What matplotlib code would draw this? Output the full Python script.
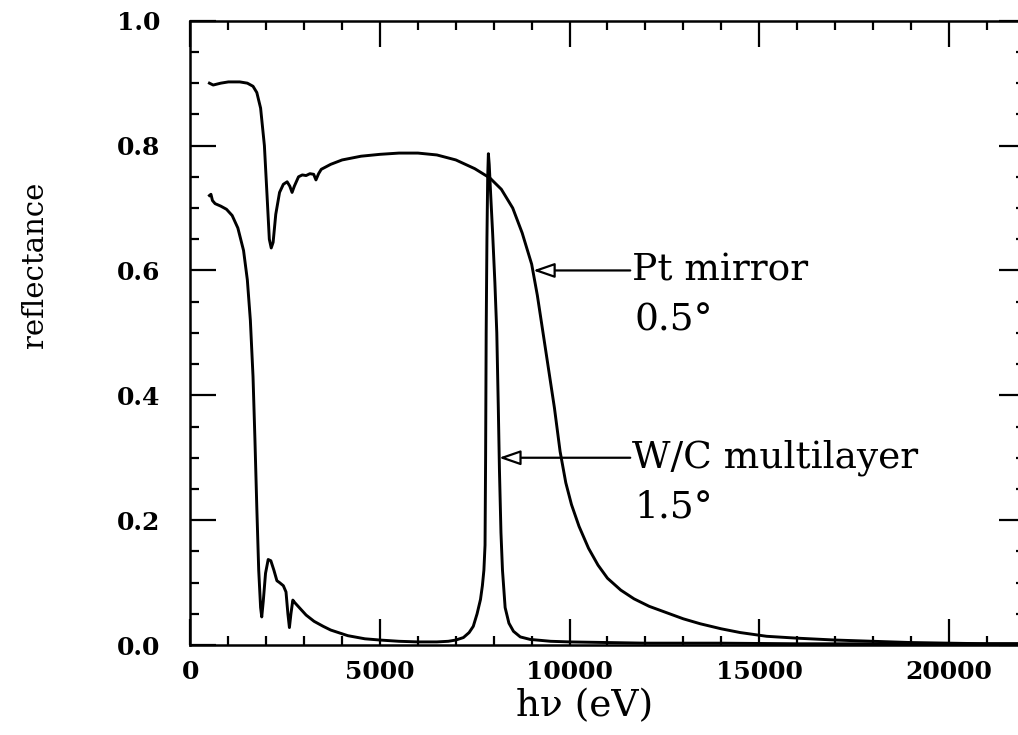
import matplotlib
matplotlib.use("Agg")
import matplotlib.pyplot as plt
from matplotlib.ticker import MultipleLocator

# Pt mirror at 0.5 deg grazing incidence (photon energy in eV, reflectance)
pt_ev = [500, 600, 800, 1000, 1300, 1500, 1650, 1750, 1850, 1950, 2020, 2080,
         2130, 2180, 2250, 2350, 2450, 2550, 2620, 2680, 2740, 2850, 2950, 3050,
         3150, 3250, 3310, 3380, 3450, 3700, 4000, 4500, 5000, 5500, 6000, 6500,
         7000, 7500, 7900, 8200, 8500, 8750, 9000, 9150, 9300, 9450, 9600, 9750,
         9900, 10050, 10250, 10500, 10750, 11000, 11350, 11700, 12100, 12550,
         13000, 13450, 14000, 14500, 15200, 16000, 17000, 18000, 19000, 20000,
         21000, 22000]
pt_r = [0.900, 0.897, 0.900, 0.902, 0.902, 0.900, 0.895, 0.885, 0.860, 0.800,
        0.720, 0.650, 0.636, 0.645, 0.690, 0.725, 0.738, 0.742, 0.735, 0.725,
        0.735, 0.750, 0.753, 0.752, 0.755, 0.754, 0.745, 0.755, 0.762, 0.770,
        0.777, 0.783, 0.786, 0.788, 0.788, 0.785, 0.777, 0.763, 0.748, 0.730,
        0.700, 0.660, 0.610, 0.560, 0.500, 0.440, 0.380, 0.310, 0.260, 0.225,
        0.190, 0.155, 0.128, 0.107, 0.088, 0.074, 0.062, 0.052, 0.042, 0.034,
        0.026, 0.020, 0.014, 0.011, 0.008, 0.006, 0.004, 0.003, 0.002, 0.002]

# W/C multilayer at 1.5 deg
wc_ev = [500, 540, 580, 650, 800, 950, 1100, 1250, 1400, 1500, 1580, 1650,
         1700, 1750, 1800, 1850, 1880, 1920, 1980, 2050, 2120, 2200, 2280, 2350,
         2450, 2520, 2570, 2610, 2650, 2700, 2750, 2900, 3050, 3260, 3500, 3700,
         4150, 4600, 5000, 5500, 6000, 6500, 6800, 7000, 7200, 7350, 7460, 7560,
         7650, 7700, 7740, 7770, 7785, 7800, 7820, 7840, 7858, 7880, 7920, 7970,
         8030, 8080, 8120, 8150, 8190, 8230, 8300, 8400, 8520, 8700, 8960, 9500,
         10000, 11000, 12000, 14000, 16000, 18000, 20000, 22000]
wc_r = [0.720, 0.722, 0.712, 0.707, 0.703, 0.698, 0.688, 0.668, 0.632, 0.585,
        0.520, 0.430, 0.330, 0.220, 0.120, 0.060, 0.045, 0.070, 0.115, 0.137,
        0.135, 0.120, 0.103, 0.100, 0.095, 0.085, 0.050, 0.028, 0.050, 0.072,
        0.068, 0.058, 0.048, 0.038, 0.030, 0.024, 0.015, 0.010, 0.008, 0.006,
        0.005, 0.005, 0.006, 0.008, 0.012, 0.020, 0.030, 0.050, 0.073, 0.095,
        0.120, 0.160, 0.300, 0.500, 0.650, 0.750, 0.787, 0.770, 0.720, 0.660,
        0.580, 0.500, 0.380, 0.280, 0.180, 0.120, 0.060, 0.035, 0.022, 0.013,
        0.009, 0.006, 0.005, 0.004, 0.003, 0.003, 0.002, 0.002, 0.002, 0.002]

labels = ["Pt mirror", "W/C multilayer"]
angles = ["0.5°", "1.5°"]
arrow_y = [0.60, 0.30]
arrow_tip = [9040, 8140]

SERIF = "DejaVu Serif"

fig = plt.figure(figsize=(10.18, 7.35), dpi=100)
ax = fig.add_axes([0.1871, 0.1224, 0.8193, 0.8494])

ax.plot(pt_ev, pt_r, color="black", lw=2.1)
ax.plot(wc_ev, wc_r, color="black", lw=2.1)

ax.set_xlim(0, 22000)
ax.set_ylim(0, 1.0)
ax.xaxis.set_major_locator(MultipleLocator(5000))
ax.xaxis.set_minor_locator(MultipleLocator(1000))
ax.yaxis.set_major_locator(MultipleLocator(0.2))
ax.yaxis.set_minor_locator(MultipleLocator(0.05))
ax.yaxis.set_major_formatter(plt.FuncFormatter(lambda v, p: f"{v:.1f}"))

ax.tick_params(which="both", direction="in", top=True, right=True, width=1.6)
ax.tick_params(which="major", length=19)
ax.tick_params(which="minor", length=6.5)
ax.tick_params(axis="x", which="major", pad=11)
ax.tick_params(axis="y", which="major", pad=22)
for lab in ax.get_xticklabels() + ax.get_yticklabels():
    lab.set_fontfamily(SERIF)
    lab.set_fontweight("bold")
    lab.set_fontsize(18)
for sp in ax.spines.values():
    sp.set_linewidth(1.8)

fig.text(585 / 1018, 1 - 706 / 735, "hν (eV)", fontfamily=SERIF, fontsize=27,
         ha="center", va="center")
fig.text(35 / 1018, 1 - 265 / 735, "reflectance", fontfamily=SERIF, fontsize=21,
         rotation=90, ha="center", va="center")

for lab, ang, y, tip in zip(labels, angles, arrow_y, arrow_tip):
    ax.annotate("", xy=(tip, y), xytext=(11600, y),
                arrowprops=dict(arrowstyle="-|>,head_length=1.3,head_width=0.45",
                                fc="white", ec="black", lw=1.6,
                                shrinkA=0, shrinkB=0))
    ax.text(11650, y, lab, fontfamily=SERIF, fontsize=27, va="center", ha="left")
    ax.text(11700, y - 0.08, ang, fontfamily=SERIF, fontsize=27, va="center", ha="left")

fig.savefig("out.png", dpi=100)
